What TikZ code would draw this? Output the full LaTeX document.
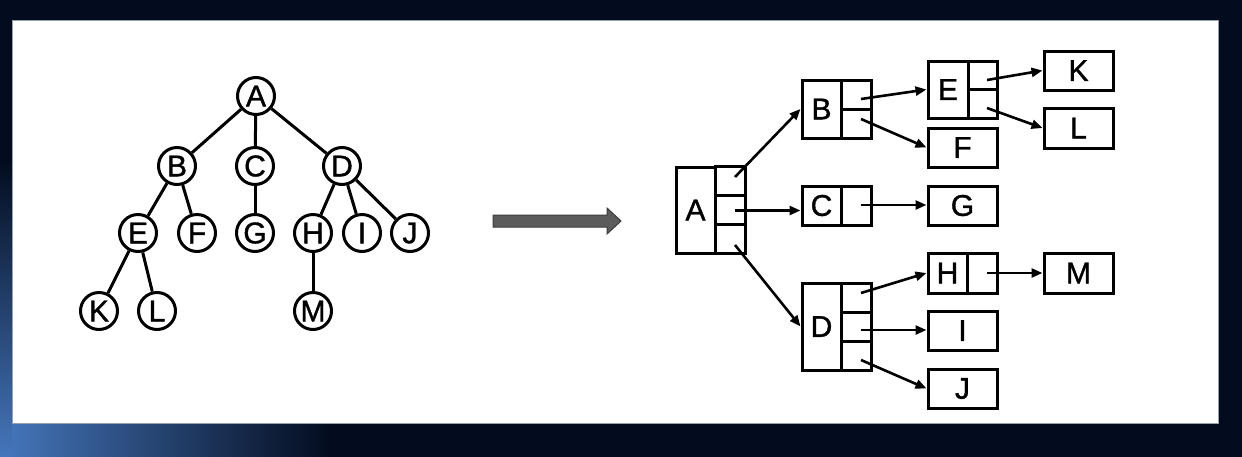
\documentclass[tikz,border=0pt]{standalone}
\usepackage{fontspec}
\setmainfont{Liberation Sans}
\newfontfamily\lblfont[FakeBold=1.2]{Liberation Sans}
\usetikzlibrary{arrows.meta}
\definecolor{navy}{RGB}{3,12,30}
\definecolor{skyblue}{RGB}{70,120,190}
\definecolor{blockfill}{RGB}{92,92,92}
\definecolor{blockedge}{RGB}{60,60,60}
\definecolor{paneledge}{RGB}{150,160,175}
\begin{document}
\begin{tikzpicture}[x=1pt,y=-1pt,
  txt/.style={font=\lblfont\fontsize{30}{32}\selectfont, text=black},
  circ/.style={circle, draw=black, line width=3pt, minimum size=37pt, inner sep=0pt, txt},
  tline/.style={draw=black, line width=3pt},
  cell/.style={rectangle, draw=black, line width=3pt, inner sep=0pt, txt},
  ptr/.style={draw=black, line width=2.6pt, -{Triangle[length=11pt,width=9pt]}},
]
\useasboundingbox (0,0) rectangle (1242,456);
% background and panel
\fill[navy] (-6,-6) rectangle (1248,462);
\shade[left color=skyblue, right color=navy] (-2,423) rectangle (330,462);
\shade[top color=navy, bottom color=skyblue] (-2,160) rectangle (12,462);
\fill[white] (12,20) rectangle (1218,423);
\draw[paneledge, line width=0.8pt] (12,20) rectangle (1218,423);

% ---------- left tree ----------
\node[circ] (tA) at (256,96) {A};
\node[circ] (tB) at (177,166) {B};
\node[circ] (tC) at (255,166) {C};
\node[circ] (tD) at (342,166) {D};
\node[circ] (tE) at (138,233) {E};
\node[circ] (tF) at (197,233) {F};
\node[circ] (tG) at (255,233) {G};
\node[circ] (tH) at (313,233) {H};
\node[circ] (tI) at (362,233) {I};
\node[circ] (tJ) at (410,233) {J};
\node[circ] (tK) at (99,311) {K};
\node[circ] (tL) at (157,311) {L};
\node[circ] (tM) at (313,311) {M};
\draw[tline] (tA) -- (tB);
\draw[tline] (tA) -- (tC);
\draw[tline] (tA) -- (tD);
\draw[tline] (tB) -- (tE);
\draw[tline] (tB) -- (tF);
\draw[tline] (tC) -- (tG);
\draw[tline] (tD) -- (tH);
\draw[tline] (tD) -- (tI);
\draw[tline] (tD) -- (tJ);
\draw[tline] (tE) -- (tK);
\draw[tline] (tE) -- (tL);
\draw[tline] (tH) -- (tM);

% ---------- block arrow ----------
\fill[blockfill, draw=blockedge, line width=1pt]
  (493,215) -- (607,215) -- (607,208) -- (621,221) -- (607,234) -- (607,227) -- (493,227) -- cycle;

% ---------- right structure ----------
% A
\node[cell, minimum width=39pt, minimum height=86pt] (bA) at (695.5,210) {A};
\node[cell, minimum width=30pt, minimum height=28.7pt] (bA1) at (730,181.3) {};
\node[cell, minimum width=30pt, minimum height=28.7pt] (bA2) at (730,210) {};
\node[cell, minimum width=30pt, minimum height=28.7pt] (bA3) at (730,238.7) {};
% B
\node[cell, minimum width=39pt, minimum height=58pt] (bB) at (821.5,109) {B};
\node[cell, minimum width=30pt, minimum height=29pt] (bB1) at (856,94.5) {};
\node[cell, minimum width=30pt, minimum height=29pt] (bB2) at (856,123.5) {};
% C
\node[cell, minimum width=39pt, minimum height=39pt] (bC) at (821.5,205.5) {C};
\node[cell, minimum width=30pt, minimum height=39pt] (bC1) at (856,205.5) {};
% D
\node[cell, minimum width=39pt, minimum height=87pt] (bD) at (821.5,326.5) {D};
\node[cell, minimum width=30pt, minimum height=29pt] (bD1) at (856,297.5) {};
\node[cell, minimum width=30pt, minimum height=29pt] (bD2) at (856,326.5) {};
\node[cell, minimum width=30pt, minimum height=29pt] (bD3) at (856,355.5) {};
% E
\node[cell, minimum width=40pt, minimum height=57pt] (bE) at (948,89.5) {E};
\node[cell, minimum width=29pt, minimum height=28.5pt] (bE1) at (982.5,75.25) {};
\node[cell, minimum width=29pt, minimum height=28.5pt] (bE2) at (982.5,103.75) {};
% H
\node[cell, minimum width=39pt, minimum height=40pt] (bH) at (947.5,273) {H};
\node[cell, minimum width=30pt, minimum height=40pt] (bH1) at (982,273) {};
% leaves
\node[cell, minimum width=69pt, minimum height=39pt] (bF) at (962.5,147.5) {F};
\node[cell, minimum width=69pt, minimum height=39pt] (bG) at (962.5,205.5) {G};
\node[cell, minimum width=69pt, minimum height=39pt] (bI) at (962.5,330.5) {I};
\node[cell, minimum width=69pt, minimum height=39pt] (bJ) at (962.5,388.5) {J};
\node[cell, minimum width=69pt, minimum height=39pt] (bK) at (1078.5,70.5) {K};
\node[cell, minimum width=69pt, minimum height=40pt] (bL) at (1078.5,128) {L};
\node[cell, minimum width=69pt, minimum height=40pt] (bM) at (1078.5,273) {M};

% pointer start points
\coordinate (sA1) at (735,177);
\coordinate (sA2) at (735,210.5);
\coordinate (sA3) at (735,245);
\coordinate (sB1) at (861,99);
\coordinate (sB2) at (861,119);
\coordinate (sC1) at (861,205);
\coordinate (sD1) at (861,293);
\coordinate (sD2) at (861,330);
\coordinate (sD3) at (861,360);
\coordinate (sE1) at (987,80);
\coordinate (sE2) at (987,108);
\coordinate (sH1) at (987,273);

\draw[ptr] (sA1) -- (bB.west);
\draw[ptr] (sA2) -- (sA2 -| bC.west);
\draw[ptr] (sA3) -- (bD.west);
\draw[ptr] (sB1) -- (bE.west);
\draw[ptr] (sB2) -- (bF.west);
\draw[ptr] (sC1) -- (sC1 -| bG.west);
\draw[ptr] (sD1) -- (bH.west);
\draw[ptr] (sD2) -- (sD2 -| bI.west);
\draw[ptr] (sD3) -- (bJ.west);
\draw[ptr] (sE1) -- (bK.west);
\draw[ptr] (sE2) -- (bL.west);
\draw[ptr] (sH1) -- (bM.west);
\end{tikzpicture}
\end{document}
